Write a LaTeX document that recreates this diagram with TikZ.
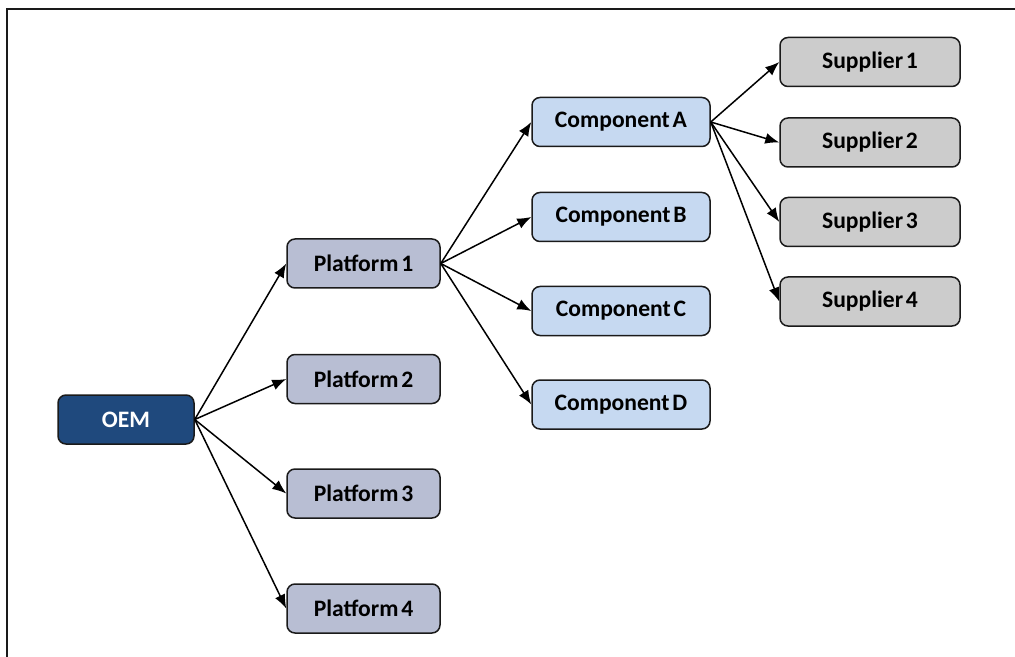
\documentclass[tikz,border=0pt]{standalone}
\usepackage{fontspec}
\setmainfont{Carlito}
\usetikzlibrary{arrows.meta}
\definecolor{oemblue}{HTML}{1F497D}
\definecolor{platfill}{HTML}{B8BED3}
\definecolor{compfill}{HTML}{C6D9F1}
\definecolor{suppfill}{HTML}{CCCCCC}
\definecolor{edge}{HTML}{1A1A1A}
% bold label font with tight word spacing
\newcommand{\boxlabelfont}{\fontsize{11.8}{13}\selectfont\bfseries\spaceskip=0.12em plus 0em minus 0em\relax}
\tikzset{
  box/.style={draw=edge, line width=0.75pt, rounded corners=4pt,
    minimum height=24.5pt, inner sep=0pt, font=\boxlabelfont},
  oembox/.style={box, fill=oemblue, text=white, minimum width=68pt},
  platbox/.style={box, fill=platfill, minimum width=76.5pt},
  compbox/.style={box, fill=compfill, minimum width=89pt},
  suppbox/.style={box, fill=suppfill, minimum width=90pt},
  link/.style={draw=black, line width=0.75pt, -{Latex[length=7pt,width=5.5pt]}},
}
\begin{document}
\begin{tikzpicture}[x=0.5pt, y=-0.5pt]
  \useasboundingbox (0,0) rectangle (1015,657);
  % outer frame (left and top edges)
  \draw[line width=1pt, edge] (7,657) -- (7,9.5) -- (1015,9.5);

  \node[oembox] (oem) at (126,419.5) {OEM};

  \node[platbox] (p1) at (363.5,263.5) {Platform 1};
  \node[platbox] (p2) at (363.5,379) {Platform 2};
  \node[platbox] (p3) at (363.5,493.5) {Platform 3};
  \node[platbox] (p4) at (363.5,608.5) {Platform 4};

  \node[compbox] (ca) at (621,122) {Component A};
  \node[compbox] (cb) at (621,217) {Component B};
  \node[compbox] (cc) at (621,311) {Component C};
  \node[compbox] (cd) at (621,404.5) {Component D};

  \node[suppbox] (s1) at (870,62) {Supplier 1};
  \node[suppbox] (s2) at (870,142.5) {Supplier 2};
  \node[suppbox] (s3) at (870,222) {Supplier 3};
  \node[suppbox] (s4) at (870,301.5) {Supplier 4};

  \foreach \t in {p1,p2,p3,p4} \draw[link] (oem.east) -- (\t.west);
  \foreach \t in {ca,cb,cc,cd} \draw[link] (p1.east) -- (\t.west);
  \foreach \t in {s1,s2,s3,s4} \draw[link] (ca.east) -- (\t.west);
\end{tikzpicture}
\end{document}
